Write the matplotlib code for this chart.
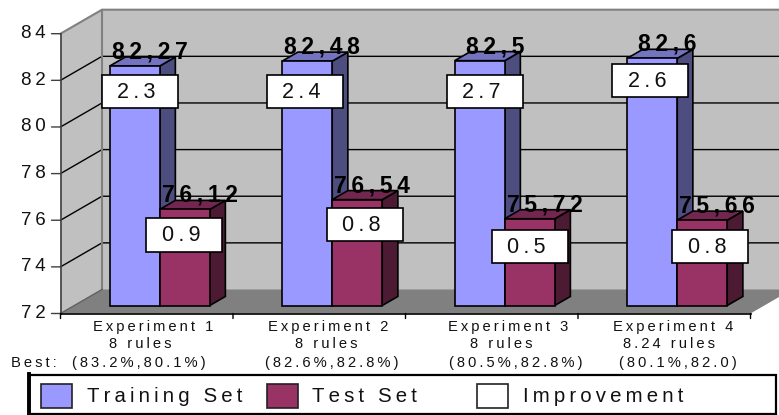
import matplotlib
matplotlib.use("Agg")
import matplotlib.pyplot as plt
from matplotlib.patches import Polygon, Rectangle

# datos
experimentos = [0, 1, 2, 3]
training = [82.27, 82.48, 82.5, 82.6]
test = [76.12, 76.54, 75.72, 75.66]
training_labels = ["82,27", "82,48", "82,5", "82,6"]
test_labels = ["76,12", "76,54", "75,72", "75,66"]
training_impr = ["2.3", "2.4", "2.7", "2.6"]
test_impr = ["0.9", "0.8", "0.5", "0.8"]
yticks = [72, 74, 76, 78, 80, 82, 84]
linea1 = ["Experiment 1", "Experiment 2", "Experiment 3", "Experiment 4"]
linea2 = ["8 rules", "8 rules", "8 rules", "8.24 rules"]
linea3 = ["(83.2%,80.1%)", "(82.6%,82.8%)", "(80.5%,82.8%)", "(80.1%,82.0)"]
leyenda = ["Training Set", "Test Set", "Improvement"]

# colores
C_TRAIN, C_TRAIN_TOP, C_TRAIN_SIDE = "#9999FF", "#7373BF", "#4D4D80"
C_TEST, C_TEST_TOP, C_TEST_SIDE = "#993366", "#732650", "#4D1A33"
FUENTE = ["Liberation Sans", "DejaVu Sans"]

W, H = 779, 415
# plano frontal en pixeles
X0, X1, Y0, Y1 = 60.5, 750.5, 313.5, 33.7
# profundidad de la caja en unidades de datos
DX = 41.5 / ((X1 - X0) / 4)
DY = 24 / ((Y0 - Y1) / 12)
D_BAR0, D_BAR1 = 0.333, 0.71
BAR_W = 0.29


def sp(s):
    # el original tiene las letras muy separadas
    return "\u2009".join(s)


def p3(x, y, d):
    return (x + d * DX, y + d * DY)


fig = plt.figure(figsize=(W / 100, H / 100), dpi=100)
ax = fig.add_axes([X0 / W, 1 - Y0 / H, (X1 - X0) / W, (Y0 - Y1) / H])
ax.set_xlim(0, 4)
ax.set_ylim(72, 84)
ax.axis("off")


def poly(pts, color, z, ec="black", lw=1.2):
    ax.add_patch(Polygon(pts, closed=True, facecolor=color, edgecolor=ec, linewidth=lw,
                         zorder=z, clip_on=False, joinstyle="miter"))


# paredes y suelo
poly([p3(0, 72, 0), p3(0, 84, 0), p3(0, 84, 1), p3(0, 72, 1)], "#C0C0C0", 1, ec="none")
poly([p3(0, 72, 1), p3(0, 84, 1), p3(4, 84, 1), p3(4, 72, 1)], "#C0C0C0", 1, ec="none")
poly([p3(0, 72, 0), p3(4, 72, 0), p3(4, 72, 1), p3(0, 72, 1)], "#808080", 2, ec="none")

for v in yticks[1:-1]:
    a, b, c = p3(0, v, 0), p3(0, v, 1), p3(4, v, 1)
    ax.plot([a[0], b[0], c[0]], [a[1], b[1], c[1]], color="black", lw=1.0, zorder=2,
            clip_on=False)

# bordes grises de la caja
a, b, c = p3(0, 84, 0), p3(0, 84, 1), p3(4, 84, 1)
ax.plot([a[0], b[0], c[0]], [a[1], b[1], c[1]], color="#808080", lw=1.5, zorder=3, clip_on=False)
a, b = p3(0, 84, 1), p3(0, 72, 1)
ax.plot([a[0], b[0]], [a[1], b[1]], color="#808080", lw=1.5, zorder=3, clip_on=False)
a, b = p3(0, 72, 0), p3(0, 72, 1)
ax.plot([a[0], b[0]], [a[1], b[1]], color="#606060", lw=1.0, zorder=3, clip_on=False)

# ejes
ax.plot([0, 0], [72, 84], color="#404040", lw=1.2, zorder=3, clip_on=False)
ax.plot([0, 4], [72, 72], color="black", lw=1.2, zorder=3, clip_on=False)
for v in yticks:
    ax.annotate("", xy=(0, v), xytext=(-9, 0), textcoords="offset pixels",
                arrowprops=dict(arrowstyle="-", color="#404040", lw=1.0, shrinkA=0, shrinkB=0))
    ax.annotate(sp(str(v)), xy=(0, v), xytext=(-15, 0), textcoords="offset pixels",
                ha="right", va="center", fontsize=13.5, family=FUENTE, color="#111111",
                annotation_clip=False)
for t in range(5):
    ax.annotate("", xy=(t, 72), xytext=(0, -5), textcoords="offset pixels", annotation_clip=False,
                arrowprops=dict(arrowstyle="-", color="black", lw=1.0, shrinkA=0, shrinkB=0))


def barra(x, v, color, top, side, z):
    x1 = x + BAR_W
    # lado, tapa y frente
    poly([p3(x1, 72, D_BAR0), p3(x1, 72, D_BAR1), p3(x1, v, D_BAR1), p3(x1, v, D_BAR0)], side, z)
    poly([p3(x, v, D_BAR0), p3(x1, v, D_BAR0), p3(x1, v, D_BAR1), p3(x, v, D_BAR1)], top, z)
    poly([p3(x, 72, D_BAR0), p3(x1, 72, D_BAR0), p3(x1, v, D_BAR0), p3(x, v, D_BAR0)], color, z + 0.1)


for i in experimentos:
    centro = i + 0.5 - 0.005
    barra(centro - BAR_W, training[i], C_TRAIN, C_TRAIN_TOP, C_TRAIN_SIDE, 5 + i)
    barra(centro, test[i], C_TEST, C_TEST_TOP, C_TEST_SIDE, 5.5 + i)

    px, py = p3(centro - BAR_W / 2, training[i], D_BAR0)
    ax.annotate(sp(training_labels[i]), xy=(px, py), xytext=(15, 14), textcoords="offset pixels",
                ha="center", va="center", fontsize=16.5, fontweight="bold", family=FUENTE,
                zorder=20, annotation_clip=False)
    px, py = p3(centro + BAR_W / 2, test[i], D_BAR0)
    ax.annotate(sp(test_labels[i]), xy=(px, py), xytext=(15, 14), textcoords="offset pixels",
                ha="center", va="center", fontsize=16.5, fontweight="bold", family=FUENTE,
                zorder=20, annotation_clip=False)

# capa en pixeles: cajas de texto, etiquetas y leyenda
capa = fig.add_axes([0, 0, 1, 1], zorder=10)
capa.set_xlim(0, W)
capa.set_ylim(H, 0)
capa.axis("off")
capa.patch.set_alpha(0)

# posiciones de las cajas (centro x, arriba)
cajas_train = [(139.7, 75), (304.7, 75), (485.2, 75), (650.5, 63.8)]
cajas_test = [(184.5, 218.3), (365, 207.8), (530.2, 229.8), (710.5, 229.8)]
for pos, textos in ((cajas_train, training_impr), (cajas_test, test_impr)):
    for (cx, top), s in zip(pos, textos):
        capa.add_patch(Rectangle((cx - 38, top), 76, 33.5, facecolor="white", edgecolor="black",
                                 linewidth=1.2, zorder=12))
        capa.text(cx - 3.5, top + 17.5, sp(s), ha="center", va="center", fontsize=15.5, family=FUENTE,
                  zorder=13, color="#111111")

# etiquetas del eje x, cada linea centrada como en el original
x_l1 = [153, 328, 507.7, 673]
x_l2 = [140.6, 326.7, 501, 669.5]
x_l3 = [139, 332, 515.5, 678]
for i in experimentos:
    capa.text(x_l1[i], 326.7, sp(linea1[i]), ha="center", va="center", fontsize=10.6, family=FUENTE, color="#111111")
    capa.text(x_l2[i], 344, sp(linea2[i]), ha="center", va="center", fontsize=10.6, family=FUENTE, color="#111111")
    capa.text(x_l3[i], 362.5, sp(linea3[i]), ha="center", va="center", fontsize=10.6, family=FUENTE, color="#111111")
capa.text(11.5, 362.5, sp("Best:"), ha="left", va="center", fontsize=10.6, family=FUENTE, color="#111111")

# leyenda
capa.add_patch(Rectangle((29, 374.5), 747.5, 39.5, facecolor="white", edgecolor="black", linewidth=1.6, zorder=11))
capa.plot([29, 29], [374, 414.5], color="black", lw=2.8, zorder=12)
x_marca = [41.5, 267, 477]
x_texto = [87, 312, 523]
colores = [C_TRAIN, C_TEST, "white"]
for xm, xt, col, s in zip(x_marca, x_texto, colores, leyenda):
    capa.add_patch(Rectangle((xm, 384), 31, 23.5, facecolor=col, edgecolor="#222222", linewidth=1.2, zorder=12))
    capa.text(xt, 396, sp(s), ha="left", va="center", fontsize=14.7, family=FUENTE, zorder=13, color="#111111")

fig.savefig("out.png", dpi=100)
